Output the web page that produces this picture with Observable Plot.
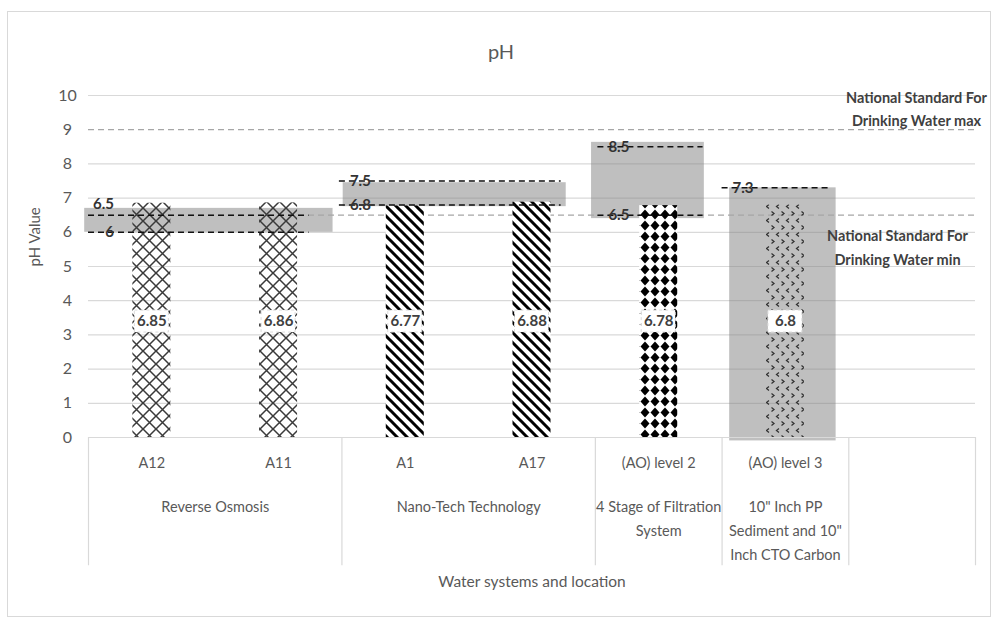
<!DOCTYPE html>
<html><head><meta charset="utf-8">
<script src="https://cdn.jsdelivr.net/npm/d3@7"></script>
<script src="https://cdn.jsdelivr.net/npm/@observablehq/plot@0.6"></script>
<style>
body{margin:0;background:#fff;font-family:Lato,sans-serif}
#wrap{position:relative;width:992px;height:619px}
#wrap svg{position:absolute;left:0;top:0}
#border{position:absolute;left:7px;top:11px;width:984px;height:606px;border:1px solid #d9d9d9;box-sizing:border-box;pointer-events:none}
</style></head><body><div id="wrap"></div>
<script>
// ---- data ----
const categories = ["A12", "A11", "A1", "A17", "(AO) level 2", "(AO) level 3"];
const phValues = [6.85, 6.86, 6.77, 6.88, 6.78, 6.8];
const groups = ["Reverse Osmosis", "Nano-Tech Technology", "4 Stage of Filtration\nSystem", "10\" Inch PP\nSediment and 10\"\nInch CTO Carbon"];
const groupSizes = [2, 2, 1, 1];
const rangeLow = [6, 6.8, 6.5, null];
const rangeHigh = [6.5, 7.5, 8.5, 7.3];
const boxLow = [6.0, 6.75, 6.4, -0.1];
const boxHigh = [6.7, 7.45, 8.63, 7.3];
const standardMax = 9;
const standardMin = 6.5;
const standardLabels = ["National Standard For\nDrinking Water max", "National Standard For\nDrinking Water min"];
const yTicks = [0, 1, 2, 3, 4, 5, 6, 7, 8, 9, 10];
const title = "pH";
const yLabel = "pH Value";
const xLabel = "Water systems and location";

// ---- layout / styling ----
const slots = categories.length + 1;
const groupStart = groupSizes.map((s, i) => groupSizes.slice(0, i).reduce((a, b) => a + b, 0));
const boundaries = [...groupStart, categories.length, slots];
const boxInL = [-0.03, 0.01, -0.03, 0.06], boxInR = [0.07, 0.23, 0.14, 0.1];
const lineInL = [0, -0.02, 0.02, 0], lineInR = [0.26, 0.27, 0.15, 0.16];
const patterns = ["url(#pCross)", "url(#pCross)", "url(#pStripe)", "url(#pStripe)", "url(#pDiamond)", "url(#pChev)"];
const half = 0.15;
const labelY = 3.39;
const tableDepth = -3.75;

const bars = categories.map((c, i) => ({c, i, v: phValues[i], fill: patterns[i]}));
const boxes = groups.map((g, i) => ({
  x1: groupStart[i] + boxInL[i], x2: groupStart[i] + groupSizes[i] - boxInR[i], y1: boxLow[i], y2: boxHigh[i]
}));
const limits = [];
groups.forEach((g, i) => {
  const x1 = groupStart[i] + lineInL[i], x2 = groupStart[i] + groupSizes[i] - lineInR[i];
  const close = rangeLow[i] != null && rangeHigh[i] - rangeLow[i] < 0.6;
  if (rangeLow[i] != null) limits.push({x1, x2, v: rangeLow[i], above: false});
  if (rangeHigh[i] != null) limits.push({x1, x2, v: rangeHigh[i], above: close});
});
const gridTicks = yTicks.filter(t => t > 0 && t !== standardMax);

const txt = "#595959", dark = "#333333";

const chart = Plot.plot({
  width: 992, height: 619,
  marginLeft: 88, marginRight: 17, marginTop: 95, marginBottom: 182,
  x: {type: "linear", domain: [0, slots], axis: null},
  y: {domain: [0, 10], axis: null},
  color: {type: "identity"},
  style: {fontFamily: "Lato, sans-serif", fontSize: "14px", color: txt, background: "transparent", overflow: "visible"},
  marks: [
    Plot.ruleY(gridTicks, {stroke: "#d9d9d9", strokeWidth: 1.2}),
    Plot.rect(boxes, {x1: "x1", x2: "x2", y1: "y1", y2: "y2", fill: "#7f7f7f", fillOpacity: 0.5}),
    Plot.ruleY([standardMax, standardMin], {stroke: "#a6a6a6", strokeWidth: 1.3, strokeDasharray: "6,4"}),
    Plot.rectY(bars, {x1: d => d.i + 0.5 - half, x2: d => d.i + 0.5 + half, y: "v", fill: "fill"}),
    Plot.ruleY(limits, {x1: "x1", x2: "x2", y: "v", stroke: "#111", strokeWidth: 1.5, strokeDasharray: "6,4"}),
    Plot.text(limits.filter(d => !d.above), {x: "x1", y: "v", text: d => String(d.v), dx: 21, fontWeight: "bold", fontSize: 15, fill: dark, lineAnchor: "middle"}),
    Plot.text(limits.filter(d => d.above), {x: "x1", y: "v", text: d => String(d.v), dx: 15, dy: -11, fontWeight: "bold", fontSize: 15, fill: dark, lineAnchor: "middle"}),
    Plot.rect(bars, {x1: d => d.i + 0.5 - half, x2: d => d.i + 0.5 + half, y1: () => labelY, y2: () => labelY,
      insetTop: -11, insetBottom: -11, insetLeft: 2, insetRight: 2, fill: "white", stroke: "#dadada", strokeDasharray: "3,3"}),
    Plot.text(bars, {x: d => d.i + 0.5, y: () => labelY, text: d => String(d.v), fontWeight: "bold", fill: "#404040", fontSize: 15, lineAnchor: "middle"}),
    Plot.text([standardLabels[0]], {frameAnchor: "right", y: () => standardMax, text: d => d, dx: -59, dy: -23, textAnchor: "middle", lineAnchor: "middle", fontWeight: "bold", fontSize: 14.5, fill: "#404040", lineHeight: 1.6}),
    Plot.text([standardLabels[1]], {frameAnchor: "right", y: () => standardMin, text: d => d, dx: -78, dy: 30, textAnchor: "middle", lineAnchor: "middle", fontWeight: "bold", fontSize: 14.5, fill: "#404040", lineHeight: 1.65}),
    // table under the plot
    Plot.ruleY([0], {stroke: "#d9d9d9", strokeWidth: 1.2}),
    Plot.ruleX(boundaries, {x: d => d, y1: 0, y2: tableDepth, stroke: "#d9d9d9", strokeWidth: 1.2}),
    Plot.text(categories, {x: (d, i) => i + 0.5, frameAnchor: "bottom", dy: 26, lineAnchor: "middle", fontSize: 14.5, fill: txt}),
    Plot.text(groups, {x: (d, i) => groupStart[i] + groupSizes[i] / 2, frameAnchor: "bottom", dy: 57, lineAnchor: "top", lineHeight: 1.66, fontSize: 14.5, fill: txt}),
    // axes text
    Plot.text(yTicks, {y: d => d, text: d => String(d), frameAnchor: "left", dx: -21, textAnchor: "middle", lineAnchor: "middle", fontSize: 16, fill: txt}),
    Plot.text([yLabel], {frameAnchor: "left", text: d => d, dx: -53, rotate: -90, fontSize: 15, fill: txt, lineAnchor: "middle"}),
    Plot.text([xLabel], {frameAnchor: "bottom", text: d => d, dy: 145, fontSize: 15.5, fill: txt, lineAnchor: "middle"}),
    Plot.text([title], {frameAnchor: "top", text: d => d, dy: -43, dx: -31, fontSize: 20, fill: txt, lineAnchor: "middle"})
  ]
});

chart.insertAdjacentHTML("afterbegin", `<defs>
<pattern id="pCross" patternUnits="userSpaceOnUse" width="13" height="13">
 <path d="M-1,-1L14,14M14,-1L-1,14" stroke="#3a3a3a" stroke-width="1.5" fill="none"/>
</pattern>
<pattern id="pStripe" patternUnits="userSpaceOnUse" width="10" height="10">
 <rect width="10" height="10" fill="#fff"/>
 <path d="M-1,-1L11,11M-6,4L6,16M4,-6L16,6" stroke="#000" stroke-width="3" fill="none"/>
</pattern>
<pattern id="pDiamond" patternUnits="userSpaceOnUse" width="10" height="11">
 <rect width="10" height="11" fill="#fff"/>
 <path d="M5,0.6L9.5,5.5L5,10.4L0.5,5.5Z" fill="#000"/>
</pattern>
<pattern id="pChev" patternUnits="userSpaceOnUse" width="10" height="14">
 <path d="M1.5,1.5L4,3.5L1.5,5.5M9,8.5L6.5,10.5L9,12.5" stroke="#333" stroke-width="1.3" fill="none"/>
</pattern>
</defs>`);

const wrap = document.getElementById("wrap");
wrap.appendChild(chart);
const b = document.createElement("div"); b.id = "border"; wrap.appendChild(b);
</script>
</body></html>
